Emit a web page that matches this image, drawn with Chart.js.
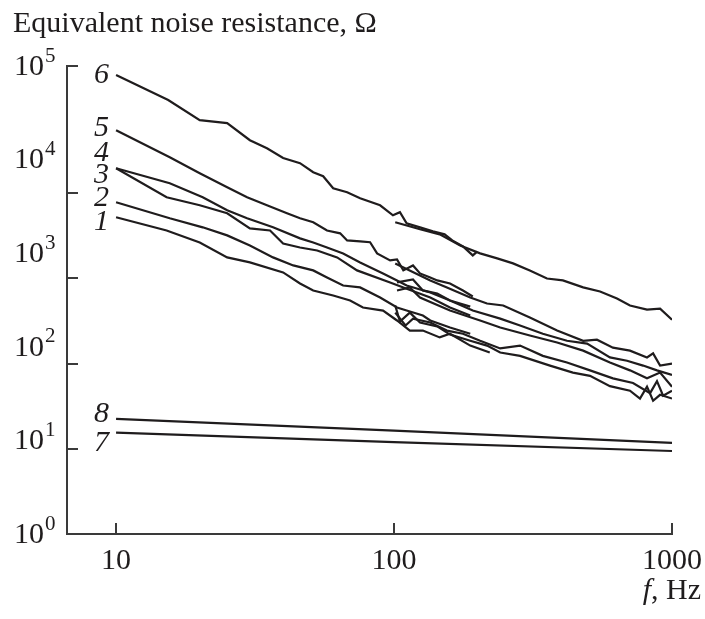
<!DOCTYPE html>
<html>
<head>
<meta charset="utf-8">
<script src="https://cdn.jsdelivr.net/npm/chart.js@4.4.0/dist/chart.umd.min.js"></script>
<style>
  body { margin: 0; background: #fff; }
  canvas { display: block; }
</style>
</head>
<body>
<canvas id="graph" width="705" height="619"></canvas>
<script>
// curves 1-6: low range (a) and high range (b), f in Hz, R in Ohm
var f6a = [10, 15.4, 20, 25.1, 30.3, 34.9, 39.9, 45.9, 51.2, 55.6, 60.4, 67.8, 75.5, 89.1, 99.1, 105, 111, 124, 138, 152, 162, 177, 192, 199];
var r6a = [80000, 43300, 26400, 24500, 16100, 13200, 10400, 9150, 7330, 6640, 4940, 4480, 3860, 3250, 2540, 2740, 2080, 1890, 1710, 1590, 1370, 1180, 947, 1040];
var f6b = [101, 124, 146, 173, 204, 235, 268, 308, 355, 405, 479, 551, 634, 706, 813, 906, 1000];
var r6b = [2140, 1800, 1590, 1210, 996, 880, 778, 655, 537, 512, 431, 390, 328, 276, 250, 256, 195];

var f5a = [10, 15.6, 20, 25.1, 29.6, 34.9, 41.2, 45.9, 51.2, 57.4, 64, 67.8, 75.5, 82, 86.9, 96.8, 102.5, 108, 117, 124, 135, 143, 159, 177, 192];
var r5a = [20600, 10600, 7150, 5060, 3960, 3250, 2670, 2360, 2140, 1750, 1630, 1370, 1340, 1310, 995, 838, 859, 655, 740, 608, 551, 512, 475, 400, 345];
var f5b = [101, 135, 155, 188, 216, 247, 308, 386, 479, 537, 613, 706, 813, 855, 906, 1000];
var r5b = [778, 512, 431, 336, 290, 276, 205, 149, 116, 119, 98, 91, 77, 85, 63, 66];

var f4a = [10, 15.6, 20.5, 25.1, 29.6, 36.7, 45.9, 51.2, 57.4, 65.6, 75.5, 91.3, 102.5, 111, 135, 159, 188];
var r4a = [8090, 5580, 3960, 2870, 2360, 1890, 1440, 1300, 1150, 995, 797, 608, 512, 452, 380, 312, 269];
var f4b = [102.5, 117, 127, 143, 159, 192, 241, 284, 343, 419, 495, 598, 689, 787, 883, 1000];
var r4b = [487, 525, 400, 371, 312, 244, 200, 169, 138, 116, 108, 77, 71, 63, 56, 50];

var f3a = [10, 15.2, 20, 25.1, 30.3, 35.8, 39.9, 45.9, 52.9, 62.4, 73.6, 96.8, 108, 135, 159, 188];
var r3a = [8090, 3960, 3250, 2670, 1840, 1750, 1270, 1150, 1070, 902, 655, 487, 431, 336, 263, 216];
var f3b = [102.5, 114, 124, 159, 204, 241, 308, 386, 479, 598, 706, 813, 906, 1000];
var r3b = [400, 431, 336, 244, 191, 161, 132, 111, 91, 68, 56, 46, 53, 37.5];

var f2a = [10, 15.6, 20.5, 25.1, 30.3, 36.7, 43.4, 51.2, 57.4, 65.6, 75.5, 89.1, 102.5, 111, 127, 135, 159, 188];
var r2a = [3500, 2360, 1890, 1550, 1210, 902, 740, 655, 551, 452, 431, 336, 263, 244, 216, 191, 161, 138];
var f2b = [101, 110, 117, 135, 155, 177, 204, 241, 284, 343, 419, 507, 613, 724, 834, 883, 929, 1000];
var r2b = [232, 169, 200, 182, 149, 138, 116, 96, 103, 80, 68, 56, 46, 41, 32, 43, 30, 34];

var f1a = [10, 15.2, 20, 25.1, 30.3, 39.9, 45.9, 51.2, 60.4, 69.5, 77.3, 91.3, 102.5, 114, 127, 146, 159, 188, 221];
var r1a = [2420, 1750, 1300, 902, 798, 623, 475, 400, 353, 312, 263, 244, 191, 149, 149, 126, 138, 103, 87];
var f1b = [101, 105, 114, 124, 143, 159, 188, 216, 241, 284, 364, 440, 507, 598, 706, 767, 813, 855, 906, 1000];
var r1b = [276, 186, 232, 182, 165, 135, 116, 103, 87, 80, 63, 53, 49, 38, 34, 28, 37.5, 26.5, 30.7, 28];

var f7 = [10, 100, 1000];
var r7 = [12.1, 9.6, 7.7];
var f8 = [10, 100, 1000];
var r8 = [17.0, 12.7, 9.4];

var xTickValues = [10, 100, 1000];
var yTickValues = [1, 10, 100, 1000, 10000, 100000];
var yTickMarks = [8.13, 66.1, 537, 4365, 100000];

var curveLabels = ['1', '2', '3', '4', '5', '6', '7', '8'];
var curveStartF = [f1a[0], f2a[0], f3a[0], f4a[0], f5a[0], f6a[0], f7[0], f8[0]];
var curveStartR = [r1a[0], r2a[0], r3a[0], r4a[0], r5a[0], r6a[0], r7[0], r8[0]];
var labelShift = [5, -4, 7, -15, -2, 0, 10, -5];

var ink = '#1f1c1d';
var serif = '"Liberation Serif", "Times New Roman", serif';

function paires(f, r) {
    var pts = [];
    for (var i = 0; i < f.length; i++) {
        pts.push({x: f[i], y: r[i]});
    }
    return pts;
}

function serie(f, r) {
    return {
        data: paires(f, r),
        borderColor: ink,
        borderWidth: 2.2,
        pointRadius: 0,
        fill: false,
        tension: 0
    };
}

var decor = {
    id: 'decor',
    afterDraw: function(chart) {
        var ctx = chart.ctx;
        var xs = chart.scales.x;
        var ys = chart.scales.y;
        var area = chart.chartArea;
        ctx.save();
        ctx.strokeStyle = '#3a3a3a';
        ctx.lineWidth = 2;
        // inward tick marks
        yTickMarks.forEach(function(v) {
            var y = Math.round(ys.getPixelForValue(v));
            ctx.beginPath();
            ctx.moveTo(area.left, y);
            ctx.lineTo(area.left + 11, y);
            ctx.stroke();
        });
        xTickValues.forEach(function(v) {
            var x = Math.round(xs.getPixelForValue(v));
            ctx.beginPath();
            ctx.moveTo(x, area.bottom);
            ctx.lineTo(x, area.bottom - 11);
            ctx.stroke();
        });

        ctx.fillStyle = ink;
        // x tick labels
        ctx.font = '30px ' + serif;
        ctx.textAlign = 'center';
        ctx.textBaseline = 'middle';
        xTickValues.forEach(function(v) {
            ctx.fillText(String(v), xs.getPixelForValue(v), area.bottom + 27);
        });

        // y tick labels 10^k
        yTickValues.forEach(function(v) {
            var y = ys.getPixelForValue(v);
            ctx.font = '30px ' + serif;
            ctx.textAlign = 'left';
            ctx.textBaseline = 'middle';
            ctx.fillText('10', 14, y + 1);
            var w = ctx.measureText('10').width;
            ctx.font = '21px ' + serif;
            ctx.fillText(String(Math.round(Math.log10(v))), 14 + w + 1, y - 10);
        });

        // curve numbers
        ctx.font = 'italic 30px ' + serif;
        ctx.textAlign = 'right';
        ctx.textBaseline = 'middle';
        curveLabels.forEach(function(t, i) {
            var x = xs.getPixelForValue(curveStartF[i]);
            var y = ys.getPixelForValue(curveStartR[i]);
            ctx.fillText(t, x - 7, y + labelShift[i]);
        });

        // titles
        ctx.font = '30px ' + serif;
        ctx.textAlign = 'left';
        ctx.fillText('Equivalent noise resistance, \u03A9', 13, 24);
        ctx.textAlign = 'right';
        var hz = ', Hz';
        var wHz = ctx.measureText(hz).width;
        ctx.fillText(hz, 701, 591);
        ctx.font = 'italic 30px ' + serif;
        ctx.fillText('f', 701 - wHz, 591);
        ctx.restore();
    }
};

var ctx = document.getElementById('graph').getContext('2d');
var myChart = new Chart(ctx, {
    type: 'line',
    data: {
        datasets: [
            serie(f1a, r1a), serie(f1b, r1b),
            serie(f2a, r2a), serie(f2b, r2b),
            serie(f3a, r3a), serie(f3b, r3b),
            serie(f4a, r4a), serie(f4b, r4b),
            serie(f5a, r5a), serie(f5b, r5b),
            serie(f6a, r6a), serie(f6b, r6b),
            serie(f7, r7), serie(f8, r8)
        ]
    },
    options: {
        responsive: false,
        animation: false,
        devicePixelRatio: 1,
        layout: { padding: { left: 0, right: 33, top: 66, bottom: 0 } },
        plugins: {
            legend: { display: false },
            tooltip: { enabled: false },
            title: { display: false }
        },
        scales: {
            x: {
                type: 'logarithmic',
                min: 6.66,
                max: 1000,
                grid: { display: false },
                border: { display: true, color: '#3a3a3a', width: 2 },
                ticks: { display: false },
                afterFit: function(scale) { scale.height = 85; }
            },
            y: {
                type: 'logarithmic',
                min: 1,
                max: 100000,
                grid: { display: false },
                border: { display: true, color: '#3a3a3a', width: 2 },
                ticks: { display: false },
                afterFit: function(scale) { scale.width = 67; }
            }
        }
    },
    plugins: [decor]
});
</script>
</body>
</html>
